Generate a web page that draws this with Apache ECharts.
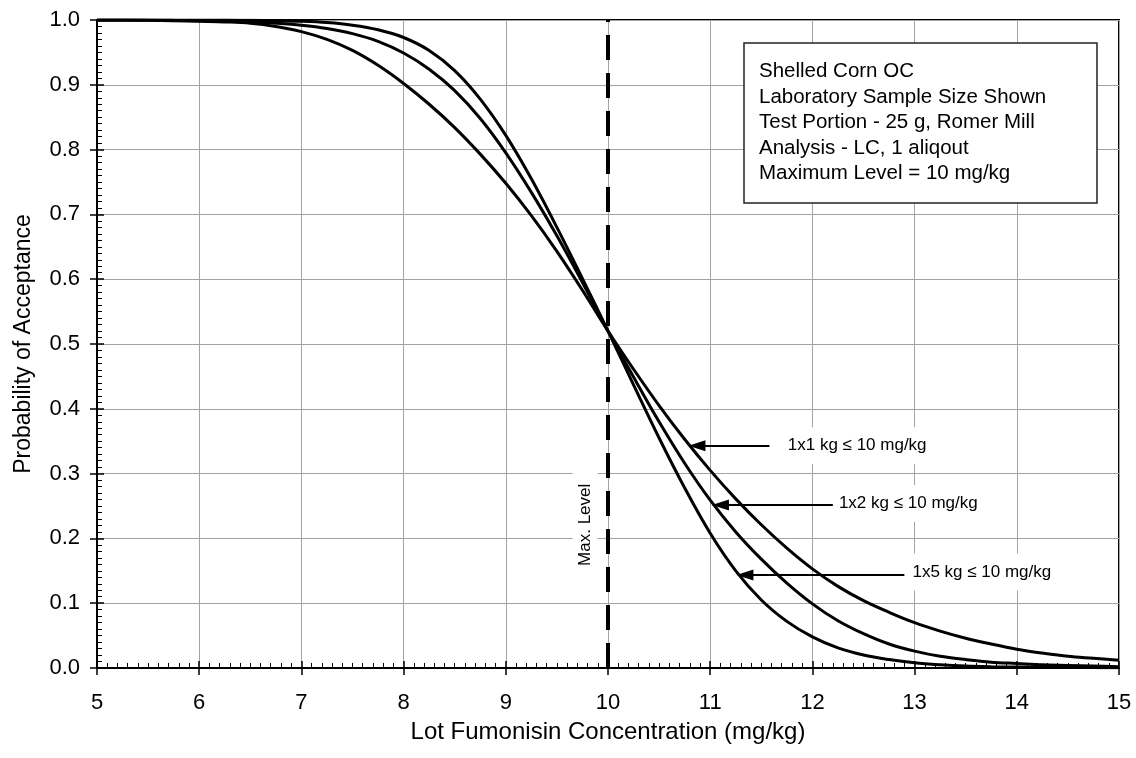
<!DOCTYPE html>
<html>
<head>
<meta charset="utf-8">
<script src="https://cdn.jsdelivr.net/npm/echarts@6/dist/echarts.min.js"></script>
<style>
html,body{margin:0;padding:0;background:#fff;}
#chart{width:1136px;height:758px;}
</style>
</head>
<body>
<div id="chart"></div>
<script>
// ---- data ----
const concentrations = [5, 5.25, 5.5, 5.75, 6, 6.25, 6.5, 6.75, 7, 7.25, 7.5, 7.75, 8, 8.25, 8.5, 8.75, 9, 9.25, 9.5, 9.75, 10,
  10.25, 10.5, 10.75, 11, 11.25, 11.5, 11.75, 12, 12.25, 12.5, 12.75, 13, 13.25, 13.5, 13.75, 14, 14.25, 14.5, 14.75, 15];
const pa1x1 = [1.000, 1.000, 0.9995, 0.999, 0.998, 0.997, 0.995, 0.990, 0.982, 0.970, 0.953, 0.930, 0.902, 0.870, 0.834, 0.793, 0.748, 0.698, 0.643, 0.583, 0.520,
  0.461, 0.405, 0.353, 0.305, 0.261, 0.221, 0.185, 0.153, 0.126, 0.104, 0.086, 0.070, 0.057, 0.046, 0.037, 0.029, 0.023, 0.018, 0.015, 0.012];
const pa1x2 = [1.000, 1.000, 1.000, 0.9995, 0.999, 0.998, 0.997, 0.995, 0.992, 0.987, 0.979, 0.967, 0.949, 0.924, 0.891, 0.848, 0.795, 0.734, 0.667, 0.595, 0.520,
  0.449, 0.380, 0.316, 0.259, 0.210, 0.168, 0.131, 0.099, 0.073, 0.053, 0.037, 0.026, 0.018, 0.013, 0.009, 0.007, 0.005, 0.004, 0.003, 0.002];
const pa1x5 = [1.000, 1.000, 1.000, 1.000, 1.000, 1.000, 0.9995, 0.999, 0.998, 0.996, 0.992, 0.985, 0.973, 0.953, 0.922, 0.878, 0.822, 0.755, 0.680, 0.601, 0.520,
  0.437, 0.355, 0.278, 0.208, 0.150, 0.105, 0.072, 0.048, 0.031, 0.020, 0.013, 0.008, 0.005, 0.003, 0.002, 0.0015, 0.001, 0.0008, 0.0006, 0.0005];
const maxLevel = 10;
const seriesNames = ['1x1 kg', '1x2 kg', '1x5 kg'];
const annotationTexts = ['1x1 kg \u2264 10 mg/kg', '1x2 kg \u2264 10 mg/kg', '1x5 kg \u2264 10 mg/kg'];
const infoLines = ['Shelled Corn OC', 'Laboratory Sample Size Shown', 'Test Portion - 25 g, Romer Mill', 'Analysis - LC, 1 aliqout', 'Maximum Level = 10 mg/kg'];
const xAxisTitle = 'Lot Fumonisin Concentration (mg/kg)';
const yAxisTitle = 'Probability of Acceptance';
const maxLevelText = 'Max. Level';

// annotation placement (data coordinates)
const arrowPlacement = [
  {tail: [11.58, 0.343], tip: [10.87, 0.343], text: [11.72, 0.343]},
  {tail: [12.20, 0.2515], tip: [11.10, 0.2515], text: [12.22, 0.254]},
  {tail: [12.90, 0.1435], tip: [11.34, 0.1435], text: [12.94, 0.148]}
];
const maxLevelLabelPos = [9.775, 0.221];

const FONT = '"Liberation Sans", Arial, Helvetica, sans-serif';

function pairs(ys) { return concentrations.map((x, i) => [x, ys[i]]); }

const chart = echarts.init(document.getElementById('chart'), null, {renderer: 'canvas'});

const curveStyle = {color: '#000', width: 3};

const option = {
  animation: false,
  backgroundColor: '#fff',
  grid: {left: 97, right: 17, top: 20, bottom: 90, show: true, borderColor: '#000', borderWidth: 2, backgroundColor: 'transparent'},
  xAxis: [
    {
      type: 'value', min: 5, max: 15, interval: 1,
      name: xAxisTitle, nameLocation: 'middle', nameGap: 52,
      nameTextStyle: {fontFamily: FONT, fontSize: 24, color: '#000'},
      axisLine: {show: true, lineStyle: {color: '#000', width: 2}},
      axisTick: {show: true, inside: false, length: 7, lineStyle: {color: '#000', width: 1.5}},
      axisLabel: {fontFamily: FONT, fontSize: 22, color: '#000', margin: 24},
      splitLine: {show: true, lineStyle: {color: '#a3a3a3', width: 1}},
      minorTick: {show: false}
    },
    {
      type: 'value', min: 5, max: 15, interval: 1, position: 'bottom', gridIndex: 0,
      axisLine: {show: false},
      axisTick: {show: true, inside: true, length: 7, lineStyle: {color: '#000', width: 1.5}},
      minorTick: {show: true, splitNumber: 10, length: 5, lineStyle: {color: '#000', width: 1}},
      axisLabel: {show: false},
      splitLine: {show: false}
    }
  ],
  yAxis: [
    {
      type: 'value', min: 0, max: 1, interval: 0.1,
      name: yAxisTitle, nameLocation: 'middle', nameGap: 62,
      nameTextStyle: {fontFamily: FONT, fontSize: 23, color: '#000'},
      axisLine: {show: true, lineStyle: {color: '#000', width: 2}},
      axisTick: {show: true, inside: false, length: 7, lineStyle: {color: '#000', width: 1.5}},
      axisLabel: {fontFamily: FONT, fontSize: 22, color: '#000', margin: 17, formatter: v => v.toFixed(1)},
      splitLine: {show: true, lineStyle: {color: '#a3a3a3', width: 1}}
    },
    {
      type: 'value', min: 0, max: 1, interval: 0.1, position: 'left',
      axisLine: {show: false},
      axisTick: {show: true, inside: true, length: 7, lineStyle: {color: '#000', width: 1.5}},
      minorTick: {show: true, splitNumber: 10, length: 5, lineStyle: {color: '#000', width: 1}},
      axisLabel: {show: false},
      splitLine: {show: false}
    }
  ],
  series: [
    {name: seriesNames[0], type: 'line', data: pairs(pa1x1), smooth: 0.35, symbol: 'none', lineStyle: curveStyle, z: 4},
    {name: seriesNames[1], type: 'line', data: pairs(pa1x2), smooth: 0.35, symbol: 'none', lineStyle: curveStyle, z: 4},
    {name: seriesNames[2], type: 'line', data: pairs(pa1x5), smooth: 0.35, symbol: 'none', lineStyle: curveStyle, z: 4},
    {
      name: 'Max level', type: 'line', data: [[maxLevel, 0], [maxLevel, 1]], symbol: 'none',
      lineStyle: {color: '#000', width: 4, type: [25, 13]}, z: 5
    },
    {
      name: 'annotation labels', type: 'scatter', symbolSize: 0, z: 3,
      itemStyle: {opacity: 1},
      data: arrowPlacement.map((a, i) => ({value: a.text, name: annotationTexts[i]})),
      label: {
        show: true, position: 'right', distance: 0, formatter: p => p.name, opacity: 1,
        fontFamily: FONT, fontSize: 17, color: '#000', backgroundColor: '#fff', padding: [10, 4]
      },
      emphasis: {disabled: true},
      silent: true
    },
    {
      name: 'max level label', type: 'scatter', symbolSize: 0, z: 3,
      itemStyle: {opacity: 1},
      data: [{value: maxLevelLabelPos, name: maxLevelText}],
      label: {
        show: true, position: 'inside', rotate: 90, formatter: p => p.name, opacity: 1,
        fontFamily: FONT, fontSize: 17, color: '#000', backgroundColor: '#fff', padding: [4, 12]
      },
      emphasis: {disabled: true},
      silent: true
    },
    {
      name: 'arrows', type: 'line', data: [], z: 6,
      markLine: {
        silent: true, animation: false,
        symbol: ['none', 'triangle'], symbolSize: [11, 17],
        lineStyle: {color: '#000', width: 2, type: 'solid', opacity: 1},
        itemStyle: {color: '#000'},
        label: {show: false},
        data: arrowPlacement.map(a => [{coord: a.tail}, {coord: a.tip}])
      }
    }
  ],
  graphic: [
    {
      type: 'rect', zlevel: 1, z: 100,
      shape: {x: 744, y: 43, width: 353, height: 160},
      style: {fill: '#fff', stroke: '#222', lineWidth: 1.5}
    },
    {
      type: 'text', zlevel: 1, z: 101, x: 759, y: 59,
      style: {text: infoLines.join('\n'), fontFamily: FONT, fontSize: 20.5, lineHeight: 25.5, fill: '#000', verticalAlign: 'top', align: 'left'}
    }
  ]
};
chart.setOption(option);
</script>
</body>
</html>
